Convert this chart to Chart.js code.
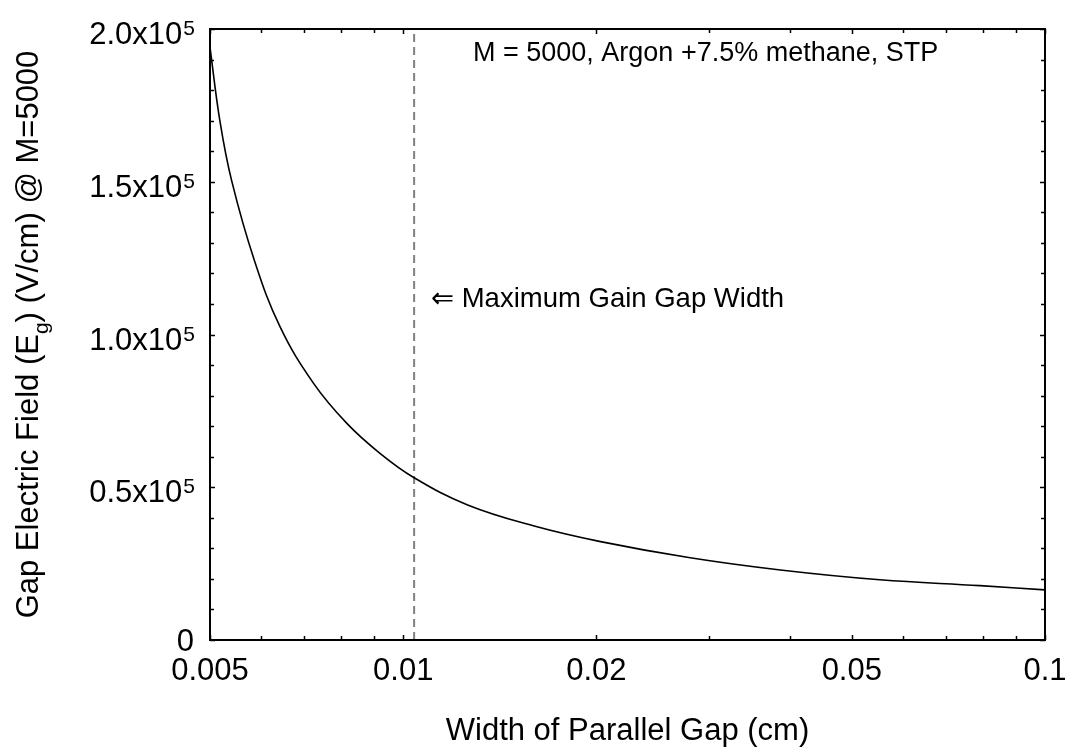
<!DOCTYPE html>
<html>
<head>
<meta charset="utf-8">
<script src="https://cdn.jsdelivr.net/npm/chart.js@4.4.1/dist/chart.umd.min.js"></script>
<style>
  html, body { margin: 0; padding: 0; background: #fff; }
  #wrap { width: 1068px; height: 751px; }
</style>
</head>
<body>
<div id="wrap"><canvas id="chart-gap"></canvas></div>
<script>
// gap width (cm) vs field (V/cm)
const gapWidth = [0.005, 0.00518, 0.0054, 0.00586, 0.00643, 0.00725, 0.00817, 0.0092, 0.0104,
                  0.0126, 0.016, 0.0203, 0.028, 0.0387, 0.0553, 0.0792, 0.1];
const gapField = [194000, 170000, 150600, 124400, 102500, 84000, 70900, 61100, 53100,
                  44200, 37300, 32200, 26900, 22900, 19700, 17800, 16400];

const maxGainWidth = 0.0104;

const xTicks = [0.005, 0.01, 0.02, 0.05, 0.1];
const xTickLabels = ["0.005", "0.01", "0.02", "0.05", "0.1"];
const xMinorTicks = [0.006, 0.007, 0.008, 0.009, 0.03, 0.04, 0.06, 0.07, 0.08, 0.09];

const yTicks = [0, 50000, 100000, 150000, 200000];
const yTickLabels = ["0", "0.5x10", "1.0x10", "1.5x10", "2.0x10"];
const yTickExp = ["", "5", "5", "5", "5"];
const yMinorStep = 10000;

const FONT = "'Liberation Sans', Arial, 'DejaVu Sans', sans-serif";

// frame, inward ticks, labels and notes
const decorPlugin = {
    id: "decor",
    afterDraw(chart) {
        const ctx = chart.ctx;
        const xs = chart.scales.x;
        const ys = chart.scales.y;
        const a = chart.chartArea;
        ctx.save();

        // ticks (all four sides, pointing in)
        ctx.strokeStyle = "#000";
        ctx.lineWidth = 1.5;
        const tickX = (v, len) => {
            const px = Math.round(xs.getPixelForValue(v)) + 0.5;
            ctx.beginPath();
            ctx.moveTo(px, a.bottom); ctx.lineTo(px, a.bottom - len);
            ctx.moveTo(px, a.top); ctx.lineTo(px, a.top + len);
            ctx.stroke();
        };
        const tickY = (v, len) => {
            const py = Math.round(ys.getPixelForValue(v)) + 0.5;
            ctx.beginPath();
            ctx.moveTo(a.left, py); ctx.lineTo(a.left + len, py);
            ctx.moveTo(a.right, py); ctx.lineTo(a.right - len, py);
            ctx.stroke();
        };
        xTicks.forEach(v => tickX(v, 5));
        xMinorTicks.forEach(v => tickX(v, 4));
        for (let v = 0; v <= 200000; v += yMinorStep) {
            tickY(v, v % 50000 === 0 ? 5 : 4);
        }

        // frame
        ctx.lineWidth = 2;
        ctx.strokeRect(a.left, a.top, a.right - a.left, a.bottom - a.top);

        // x tick labels
        ctx.fillStyle = "#000";
        ctx.font = "31px " + FONT;
        ctx.textAlign = "center";
        ctx.textBaseline = "alphabetic";
        xTicks.forEach((v, i) => {
            ctx.fillText(xTickLabels[i], xs.getPixelForValue(v), 680);
        });

        // y tick labels with superscript
        const rightEdge = 194;
        yTicks.forEach((v, i) => {
            const py = ys.getPixelForValue(v);
            ctx.textAlign = "left";
            ctx.font = "21px " + FONT;
            const ew = yTickExp[i] ? ctx.measureText(yTickExp[i]).width : 0;
            ctx.font = "31px " + FONT;
            const bw = ctx.measureText(yTickLabels[i]).width;
            const x0 = rightEdge - ew - bw;
            const base = yTickExp[i] ? py + 15 : py + 11;
            ctx.fillText(yTickLabels[i], x0, base);
            if (yTickExp[i]) {
                ctx.font = "21px " + FONT;
                ctx.fillText(yTickExp[i], x0 + bw + 1, py + 6);
            }
        });

        // x title
        ctx.font = "31px " + FONT;
        ctx.textAlign = "center";
        ctx.fillText("Width of Parallel Gap (cm)", (a.left + a.right) / 2, 740);

        // y title (rotated, subscript g)
        const parts = [
            { t: "Gap Electric Field (E", size: 31, dy: 0 },
            { t: "g", size: 21, dy: 10 },
            { t: ") (V/cm) @ M=5000", size: 31, dy: 0 },
        ];
        let total = 0;
        parts.forEach(p => {
            ctx.font = p.size + "px " + FONT;
            p.w = ctx.measureText(p.t).width;
            total += p.w;
        });
        ctx.save();
        ctx.translate(38, (a.top + a.bottom) / 2);
        ctx.rotate(-Math.PI / 2);
        ctx.textAlign = "left";
        let cx = -total / 2;
        parts.forEach(p => {
            ctx.font = p.size + "px " + FONT;
            ctx.fillText(p.t, cx, p.dy);
            cx += p.w;
        });
        ctx.restore();

        // notes
        ctx.font = "27px " + FONT;
        ctx.textAlign = "left";
        ctx.textBaseline = "middle";
        ctx.fillText("M = 5000, Argon +7.5% methane, STP", 473, 54);
        ctx.font = "27.5px " + FONT;
        ctx.fillText("\u21D0 Maximum Gain Gap Width", 431, 299);

        ctx.restore();
    }
};

const ctxGap = document.getElementById("chart-gap");

const dataGap = {
    datasets: [
        {
            label: "Field",
            data: gapWidth.map((w, i) => ({ x: w, y: gapField[i] })),
            borderColor: "#000",
            borderWidth: 1.6,
            pointRadius: 0,
            tension: 0.4,
            fill: false,
        },
        {
            label: "Max gain width",
            data: [{ x: maxGainWidth, y: 0 }, { x: maxGainWidth, y: 200000 }],
            borderColor: "#808080",
            borderWidth: 2,
            borderDash: [8, 5],
            pointRadius: 0,
            fill: false,
        },
    ],
};

const configGap = {
    type: "line",
    data: dataGap,
    options: {
        responsive: true,
        maintainAspectRatio: false,
        animation: false,
        layout: {
            padding: { left: 210, right: 23, top: 29, bottom: 111 },
        },
        scales: {
            x: { type: "logarithmic", min: 0.005, max: 0.1, display: false },
            y: { type: "linear", min: 0, max: 200000, display: false },
        },
        plugins: {
            legend: { display: false },
            tooltip: { enabled: false },
        },
    },
    plugins: [decorPlugin],
};

new Chart(ctxGap, configGap);
</script>
</body>
</html>
